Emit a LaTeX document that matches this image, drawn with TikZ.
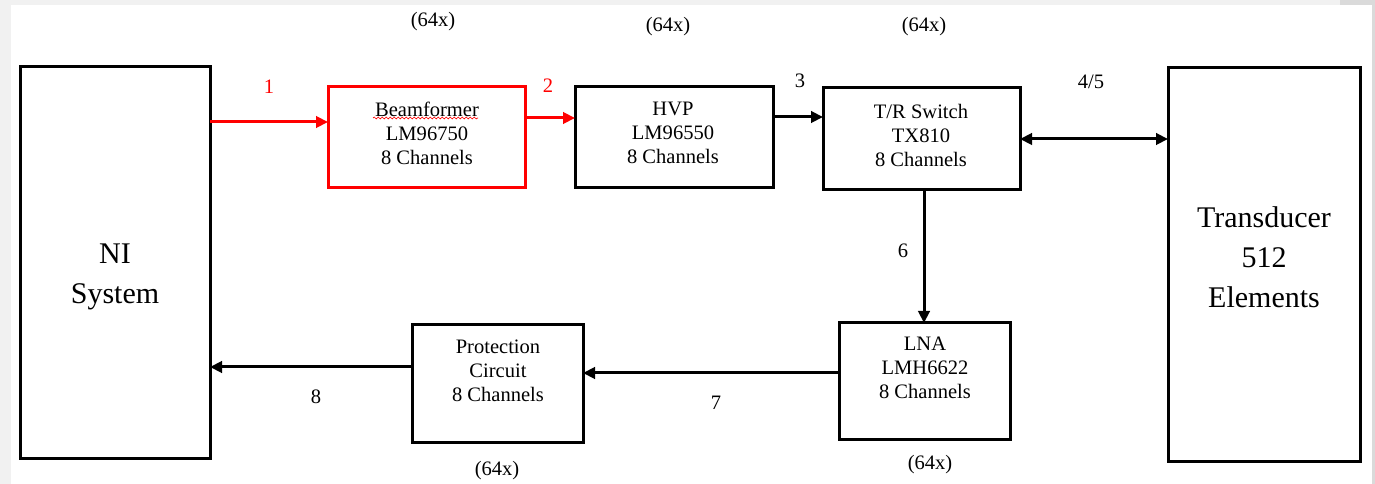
\documentclass[tikz,border=0pt]{standalone}
\usepackage{fontspec}
\setmainfont{Liberation Serif}
\usetikzlibrary{arrows.meta,decorations.pathmorphing}
\definecolor{bgl}{RGB}{241,241,241}
\definecolor{bgr}{RGB}{218,218,218}
\definecolor{pured}{RGB}{255,0,0}
\tikzset{
  blk/.style={draw=black, line width=2.25pt, rectangle, inner sep=0pt, outer sep=0pt, anchor=north west},
  redblk/.style={blk, draw=pured},
  txt/.style={font=\fontsize{15.4}{18}\selectfont, align=center, inner sep=0pt},
  bigtxt/.style={font=\fontsize{22.5}{30}\selectfont, align=center, inner sep=0pt},
  conn/.style={line width=2.25pt, -{Triangle[length=9pt,width=8.5pt]}},
  redconn/.style={conn, draw=pured},
  dconn/.style={line width=2.25pt, {Triangle[length=9pt,width=8.5pt]}-{Triangle[length=9pt,width=8.5pt]}},
}
\begin{document}
\begin{tikzpicture}[x=0.75pt,y=-0.75pt]
\useasboundingbox (0,0) rectangle (1375,484);
\fill[bgl] (0,0) rectangle (1375,484);
\fill[bgr] (1340,0) rectangle (1375,484);
\fill[white] (11,5) rectangle (1372,484);

% boxes
\node[blk, minimum width=190*0.75pt, minimum height=392*0.75pt] (ni) at (20,67) {};
\node[redblk, minimum width=197*0.75pt, minimum height=101*0.75pt] (bf) at (328,87) {};
\node[blk, minimum width=198*0.75pt, minimum height=101*0.75pt] (hvp) at (575,87) {};
\node[blk, minimum width=197*0.75pt, minimum height=102*0.75pt] (tr) at (823,88) {};
\node[blk, minimum width=192*0.75pt, minimum height=394*0.75pt] (td) at (1168,68) {};
\node[blk, minimum width=171*0.75pt, minimum height=117*0.75pt] (lna) at (839,323) {};
\node[blk, minimum width=171*0.75pt, minimum height=118*0.75pt] (pc) at (412,325) {};

% box texts
\node[bigtxt] (nit) at (115,277) {NI\\System};
\node[bigtxt] (tdt) at (1264,257) {Transducer\\512\\Elements};
\node[txt] (bft) at (427,133) {Beamformer\\LM96750\\8 Channels};
\node[txt] (hvpt) at (673,133) {HVP\\LM96550\\8 Channels};
\node[txt] (trt) at (921,135) {T/R Switch\\TX810\\8 Channels};
\node[txt] (lnat) at (925,368) {LNA\\LMH6622\\8 Channels};
\node[txt] (pct) at (498,371) {Protection\\Circuit\\8 Channels};

% spell-check squiggle
\draw[pured, line width=0.5pt, decorate, decoration={snake, amplitude=0.7pt, segment length=3pt}] (373,118) -- (478,118);

% multiplicity labels
\node[txt] (m1) at (433,22) {(64x)};
\node[txt] (m2) at (668,27) {(64x)};
\node[txt] (m3) at (924,27) {(64x)};
\node[txt] (m4) at (497,471) {(64x)};
\node[txt] (m5) at (930,465) {(64x)};

% connector coordinates
\coordinate (y1) at (0,122);
\coordinate (y2) at (0,118);
\coordinate (y3) at (0,117);
\coordinate (x6) at (924,0);
\coordinate (y7) at (0,373);
\coordinate (y8) at (0,367);

% connectors
\draw[redconn] (ni.east |- y1) -- (bf.west |- y1);
\draw[redconn] (bf.east |- y2) -- (hvp.west |- y2);
\draw[conn] (hvp.east |- y3) -- (tr.west |- y3);
\draw[dconn] (tr.east) -- (td.west |- tr.east);
\draw[conn] (tr.south -| x6) -- (lna.north -| x6);
\draw[conn] (lna.west |- y7) -- (pc.east |- y7);
\draw[conn] (pc.west |- y8) -- (ni.east |- y8);

% connector labels
\node[txt, text=pured] (l1) at (269,87) {1};
\node[txt, text=pured] (l2) at (548,86) {2};
\node[txt] (l3) at (800,81) {3};
\node[txt] (l45) at (1091,82) {4/5};
\node[txt] (l6) at (903,251) {6};
\node[txt] (l7) at (716,403) {7};
\node[txt] (l8) at (316,397) {8};
\end{tikzpicture}
\end{document}
